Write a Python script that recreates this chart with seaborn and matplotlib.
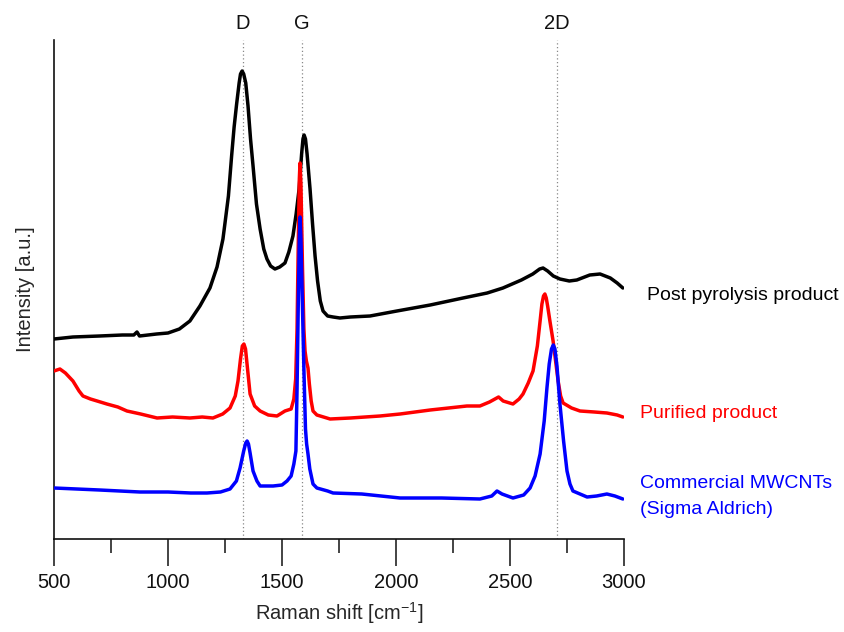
import numpy as np
import pandas as pd
import matplotlib
matplotlib.use("Agg")
import matplotlib.pyplot as plt
import matplotlib.transforms as mtransforms
import seaborn as sns

# Raman shift (cm^-1) and intensity (a.u., stacked offsets) for each sample
post_shift = [500, 583, 700, 800, 850, 864, 875, 950, 1000, 1050, 1096, 1140, 1184, 1215,
              1241, 1250, 1265, 1279, 1290, 1301, 1312, 1318, 1325, 1332, 1341, 1351, 1362,
              1373, 1388, 1404, 1420, 1434, 1450, 1469, 1490, 1513, 1530, 1548, 1562, 1575,
              1586, 1592, 1597, 1603, 1610, 1623, 1634, 1645, 1656, 1668, 1680, 1700, 1724,
              1754, 1800, 1886, 2004, 2150, 2294, 2400, 2469, 2550, 2600, 2630, 2645, 2665,
              2690, 2719, 2760, 2793, 2850, 2895, 2940, 2970, 2995]
post_int = [200, 202, 203, 204, 204, 207, 203, 205, 206, 210, 218, 233, 251, 272,
            300, 316, 343, 383, 412, 435, 456, 465, 468, 465, 456, 433, 400,
            373, 335, 310, 290, 280, 273, 270, 272, 276, 287, 303, 325, 350,
            385, 400, 404, 400, 385, 350, 315, 283, 258, 238, 228, 223, 222,
            221, 222, 223, 228, 234, 241, 246, 251, 259, 265, 270, 271, 268,
            263, 260, 258, 259, 264, 265, 261, 256, 251]

pur_shift = [500, 526, 550, 583, 610, 627, 660, 689, 732, 780, 820, 880, 952, 1020, 1096,
             1150, 1197, 1240, 1272, 1295, 1307, 1318, 1326, 1333, 1340, 1348, 1360, 1380,
             1404, 1440, 1478, 1513, 1540, 1552, 1560, 1566, 1571, 1576, 1579, 1583, 1590,
             1596, 1601, 1607, 1614, 1620, 1628, 1636, 1653, 1711, 1800, 1930, 2018, 2150,
             2311, 2368, 2410, 2434, 2450, 2470, 2513, 2540, 2557, 2580, 2601, 2620, 2632,
             2640, 2647, 2653, 2659, 2665, 2675, 2689, 2700, 2711, 2722, 2733, 2770, 2807,
             2870, 2925, 2970, 2995]
pur_int = [168, 170, 166, 158, 148, 143, 140, 138, 135, 132, 128, 125, 121, 122, 121,
           122, 121, 125, 131, 143, 158, 180, 193, 195, 190, 172, 145, 133,
           128, 124, 123, 128, 130, 140, 160, 210, 290, 360, 376, 355, 270,
           210, 188, 178, 171, 155, 138, 128, 124, 120, 121, 123, 125, 129,
           133, 133, 137, 140, 142, 138, 135, 140, 145, 156, 168, 193, 218,
           235, 243, 245, 241, 233, 218, 198, 178, 158, 143, 136, 131, 128,
           127, 126, 124, 122]

com_shift = [500, 600, 700, 877, 1000, 1100, 1171, 1230, 1272, 1300, 1316, 1332, 1341, 1347,
             1353, 1360, 1373, 1390, 1404, 1461, 1500, 1522, 1540, 1552, 1561, 1566, 1571,
             1576, 1579, 1583, 1589, 1596, 1603, 1608, 1614, 1622, 1636, 1653, 1700, 1724,
             1850, 2018, 2200, 2368, 2420, 2443, 2465, 2513, 2560, 2588, 2610, 2632, 2650,
             2662, 2672, 2682, 2690, 2697, 2706, 2712, 2719, 2735, 2750, 2763, 2776, 2838,
             2880, 2925, 2960, 2995]
com_int = [51, 50, 49, 47, 47, 46, 46, 47, 50, 58, 71, 88, 96, 98,
           95, 86, 68, 58, 53, 53, 54, 58, 63, 75, 88, 150, 230,
           300, 322, 300, 240, 170, 110, 95, 85, 70, 55, 51, 48, 46,
           45, 41, 41, 40, 43, 48, 45, 41, 44, 51, 63, 85, 118,
           151, 175, 190, 194, 190, 173, 155, 135, 98, 68, 55, 48, 42,
           43, 45, 43, 40]

samples = ["Post pyrolysis product", "Purified product", "Commercial MWCNTs"]
colors = ["#000000", "#ff0000", "#0000ff"]

# band positions marked with dotted guides
band_names = ["D", "G", "2D"]
band_pos = [1328, 1589, 2706]

df = pd.concat([
    pd.DataFrame({"shift": post_shift, "intensity": post_int, "sample": samples[0]}),
    pd.DataFrame({"shift": pur_shift, "intensity": pur_int, "sample": samples[1]}),
    pd.DataFrame({"shift": com_shift, "intensity": com_int, "sample": samples[2]}),
], ignore_index=True)

sns.set_style("white")
plt.rcParams["font.family"] = ["Liberation Sans", "DejaVu Sans"]
plt.rcParams["mathtext.fontset"] = "custom"
plt.rcParams["mathtext.rm"] = "Liberation Sans"
plt.rcParams["mathtext.it"] = "Liberation Sans:italic"

fig = plt.figure(figsize=(8.45, 6.32), dpi=100)
ax = fig.add_axes([54 / 845, (632 - 539) / 632, (624 - 54) / 845, (539 - 40) / 632])

for pos in band_pos:
    ax.axvline(pos, color="#888888", lw=0.9, ls=(0, (1, 2)), zorder=1)

sns.lineplot(data=df, x="shift", y="intensity", hue="sample", hue_order=samples,
             palette=colors, estimator=None, sort=False, lw=2.5, legend=False, ax=ax,
             zorder=3)
for line in ax.get_lines():
    line.set_solid_joinstyle("round")
    line.set_solid_capstyle("round")

ax.set_xlim(500, 3000)
ax.set_ylim(0, 499)
ax.set_xticks(np.arange(500, 3001, 500))
ax.set_xticks(np.arange(750, 3000, 500), minor=True)
ax.set_yticks([])
ax.tick_params(axis="x", which="major", direction="out", length=19.5, width=1.1,
               labelsize=14.5, pad=5, bottom=True, colors="#111111")
ax.tick_params(axis="x", which="minor", direction="out", length=10, width=1.1,
               bottom=True, colors="#111111")
for side in ["top", "right"]:
    ax.spines[side].set_visible(False)
for side in ["left", "bottom"]:
    ax.spines[side].set_linewidth(1.2)
    ax.spines[side].set_color("#111111")

ax.set_xlabel("Raman shift [cm$^{-1}$]", fontsize=14.5, labelpad=6)
ax.set_ylabel("Intensity [a.u.]", fontsize=14.5, labelpad=14)

trans = mtransforms.blended_transform_factory(ax.transData, ax.transAxes)
for name, pos in zip(band_names, band_pos):
    ax.text(pos, 1.033, name, transform=trans, ha="center", va="center",
            fontsize=14.5, color="#111111")

ax.text(3101, 243, "Post pyrolysis product", color=colors[0], fontsize=14,
        ha="left", va="center", clip_on=False)
ax.text(3070, 125, "Purified product", color=colors[1], fontsize=14,
        ha="left", va="center", clip_on=False)
ax.text(3070, 55, "Commercial MWCNTs", color=colors[2], fontsize=14,
        ha="left", va="center", clip_on=False)
ax.text(3070, 30, "(Sigma Aldrich)", color=colors[2], fontsize=14,
        ha="left", va="center", clip_on=False)

fig.savefig("out.png", dpi=100)
